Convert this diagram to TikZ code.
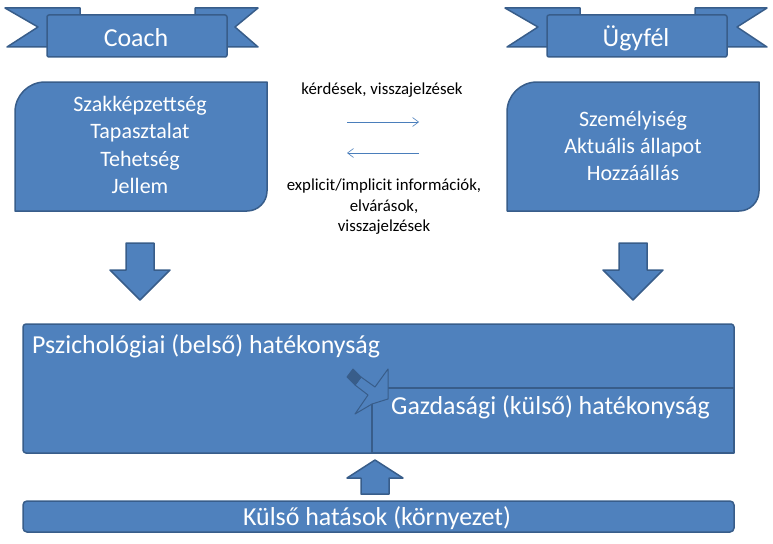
\documentclass[tikz,border=0pt]{standalone}
\usepackage{fontspec}
\setmainfont{Carlito}
\usetikzlibrary{arrows.meta}
\definecolor{boxfill}{HTML}{4F81BD}
\definecolor{boxline}{HTML}{385D8A}
\definecolor{thinarrow}{HTML}{4A7EBB}
\begin{document}
\begin{tikzpicture}[x=1pt,y=-1pt,
  shapebox/.style={fill=boxfill,draw=boxline,line width=1.5pt,line join=round},
  bigtxt/.style={text=white,inner sep=0pt,font=\fontsize{25.9}{30}\selectfont},
  midtxt/.style={text=white,inner sep=0pt,align=center,font=\fontsize{22}{27.3}\selectfont},
  smalltxt/.style={text=black,inner sep=0pt,align=center,font=\fontsize{16.8}{20.5}\selectfont},
  flowarrow/.style={draw=thinarrow,line width=0.6pt,-{Straight Barb[length=6pt,width=9pt,line width=0.6pt]}}]
\useasboundingbox (0,0) rectangle (773,543);
% ---- Coach ribbon
\draw[shapebox] (5,8) -- (80,8) -- (80,47) -- (7,47) -- (38,27) -- cycle;
\draw[shapebox] (195,8) -- (258,8) -- (235,27) -- (258,47) -- (195,47) -- cycle;
\draw[shapebox,rounded corners=2pt] (47,15) rectangle (227,57);
\node[bigtxt] (coach) at (136,38) {Coach};
% ---- Ugyfel ribbon
\draw[shapebox] (505,8) -- (580,8) -- (580,47) -- (507,47) -- (538,27) -- cycle;
\draw[shapebox] (695,8) -- (767,8) -- (737,27) -- (767,47) -- (695,47) -- cycle;
\draw[shapebox,rounded corners=2pt] (547,15) rectangle (727,57);
\node[bigtxt] (ugyfel) at (636,38) {Ügyfél};
% ---- left box
\draw[shapebox] (15,211) -- (15,112) arc[start angle=180,end angle=270,radius=30] -- (267,82) -- (267,191) arc[start angle=0,end angle=90,radius=20] -- cycle;
\node[midtxt] (coachprops) at (140,145) {Szakképzettség\\Tapasztalat\\Tehetség\\Jellem};
% ---- right box
\draw[shapebox] (507,211) -- (507,112) arc[start angle=180,end angle=270,radius=30] -- (759,82) -- (759,191) arc[start angle=0,end angle=90,radius=20] -- cycle;
\node[midtxt] (clientprops) at (633,146) {Személyiség\\Aktuális állapot\\Hozzáállás};
% ---- middle texts and arrows
\node[smalltxt] (q) at (382,90) {kérdések, visszajelzések};
\node[smalltxt] (info) at (384,207) {explicit/implicit információk,\\elvárások,\\visszajelzések};
\coordinate (ra) at (347,122);
\coordinate (rb) at (419,122);
\coordinate (la) at (419,153);
\coordinate (lb) at (347,153);
\draw[flowarrow] (ra) -- (rb);
\draw[flowarrow] (la) -- (lb);
% ---- down arrows
\draw[shapebox] (126,243) -- (154,243) -- (154,270) -- (170,270) -- (140,300) -- (110,270) -- (126,270) -- cycle;
\draw[shapebox] (619,243) -- (647,243) -- (647,270) -- (663,270) -- (633,300) -- (603,270) -- (619,270) -- cycle;
% ---- large box
\draw[shapebox,rounded corners=3pt] (23,324) rectangle (734,453);
\draw[shapebox] (372,388) rectangle (734,453);
\node[bigtxt,anchor=west] (psy) at (32,346) {Pszichológiai (belső) hatékonyság};
\node[bigtxt,anchor=west] (econ) at (391,407) {Gazdasági (külső) hatékonyság};
% ---- bent arrow glyph
\draw[shapebox,line width=1pt] (361,377) -- (375,387) -- (388,369) -- (388,399) -- (372,404) -- (355,414) -- (368,395) -- (355,385) -- cycle;
\draw[fill=boxline,draw=boxline,line width=1pt,line join=round] (353,369) -- (361,377) -- (355,385) -- (347,377) -- cycle;
% ---- up arrow
\draw[shapebox] (361,494) -- (389,494) -- (389,478) -- (403,478) -- (375,460) -- (347,478) -- (361,478) -- cycle;
% ---- bottom box
\draw[shapebox,rounded corners=4pt] (23,501) rectangle (734,532);
\node[bigtxt] (env) at (377,518) {Külső hatások (környezet)};
\end{tikzpicture}
\end{document}
